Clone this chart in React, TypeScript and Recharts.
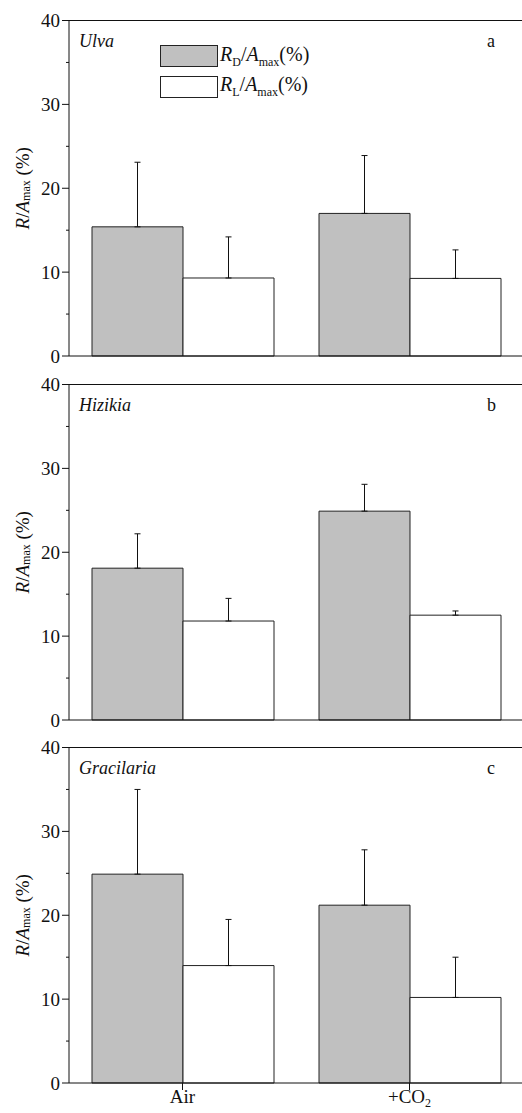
import React from "react";
import { BarChart, Bar, XAxis, YAxis, ErrorBar, Legend, Label } from "recharts";

const CATEGORIES = ["Air", "+CO2"];

const ULVA_RD = [15.4, 17.0];
const ULVA_RD_SD = [7.7, 6.9];
const ULVA_RL = [9.3, 9.25];
const ULVA_RL_SD = [4.9, 3.4];

const HIZIKIA_RD = [18.1, 24.9];
const HIZIKIA_RD_SD = [4.1, 3.2];
const HIZIKIA_RL = [11.8, 12.5];
const HIZIKIA_RL_SD = [2.7, 0.5];

const GRACILARIA_RD = [24.9, 21.2];
const GRACILARIA_RD_SD = [10.1, 6.6];
const GRACILARIA_RL = [14.0, 10.2];
const GRACILARIA_RL_SD = [5.5, 4.8];

const Y_TICKS = [0, 5, 10, 15, 20, 25, 30, 35, 40];

const PANELS = [
  { name: "Ulva", letter: "a", rd: ULVA_RD, rdSd: ULVA_RD_SD, rl: ULVA_RL, rlSd: ULVA_RL_SD },
  { name: "Hizikia", letter: "b", rd: HIZIKIA_RD, rdSd: HIZIKIA_RD_SD, rl: HIZIKIA_RL, rlSd: HIZIKIA_RL_SD },
  { name: "Gracilaria", letter: "c", rd: GRACILARIA_RD, rdSd: GRACILARIA_RD_SD, rl: GRACILARIA_RL, rlSd: GRACILARIA_RL_SD },
];

const FONT = '"Liberation Serif", "DejaVu Serif", serif';
const INK = "#111";
const GRAY = "#c0c0c0";
const PANEL_STEP = 363.5;

function YTick(props: any) {
  const { x, y, payload } = props;
  const major = payload.value % 10 === 0;
  return (
    <g>
      <line x1={x - (major ? 7 : 3)} x2={x} y1={y} y2={y} stroke={INK} />
      {major && (
        <text x={x - 9} y={y} dy="0.35em" textAnchor="end" fontSize={19} fontFamily={FONT} fill={INK}>
          {payload.value}
        </text>
      )}
    </g>
  );
}

function XTick(props: any) {
  const { x, y, payload } = props;
  const label = payload.value as string;
  return (
    <text x={x} y={y} dy="0.71em" textAnchor="middle" fontSize={19} fontFamily={FONT} fill={INK}>
      {label === "+CO2" ? (
        <>
          +CO<tspan dy={4} fontSize={12}>2</tspan>
        </>
      ) : (
        label
      )}
    </text>
  );
}

function YLabel(props: any) {
  const { viewBox } = props;
  const cx = 22;
  const cy = viewBox.y + viewBox.height / 2;
  return (
    <text
      x={cx}
      y={cy}
      transform={`rotate(-90 ${cx} ${cy})`}
      textAnchor="middle"
      dominantBaseline="central"
      fontSize={19}
      fontFamily={FONT}
      fill={INK}
    >
      <tspan fontStyle="italic">R</tspan>/<tspan fontStyle="italic">A</tspan>
      <tspan dy={4} fontSize={12}>max</tspan>
      <tspan dy={-4}> (%)</tspan>
    </text>
  );
}

const LEGEND_ITEMS = [
  { fill: GRAY, sub: "D" },
  { fill: "#fff", sub: "L" },
];

function LegendContent() {
  return (
    <div style={{ fontFamily: FONT, color: INK }}>
      {LEGEND_ITEMS.map((item) => (
        <div key={item.sub} style={{ display: "flex", alignItems: "center", height: 30.6 }}>
          <div style={{ width: 58, height: 22, background: item.fill, border: "1px solid #222", boxSizing: "border-box" }} />
          <span style={{ marginLeft: 2, fontSize: 20, whiteSpace: "nowrap" }}>
            <i>R</i>
            <sub style={{ fontSize: 12 }}>{item.sub}</sub>/<i>A</i>
            <sub style={{ fontSize: 12 }}>max</sub>(%)
          </span>
        </div>
      ))}
    </div>
  );
}

function Panel({ index }: { index: number }) {
  const p = PANELS[index];
  const data = CATEGORIES.map((cat, i) => ({
    cat,
    rd: p.rd[i],
    rdErr: [0, p.rdSd[i]],
    rl: p.rl[i],
    rlErr: [0, p.rlSd[i]],
  }));
  const last = index === PANELS.length - 1;
  return (
    <div style={{ position: "absolute", left: 0, top: index * PANEL_STEP }}>
      <BarChart
        width={523}
        height={386}
        data={data}
        barGap={0}
        margin={{ top: 20.5, right: 0, bottom: 28, left: 0 }}
      >
        <XAxis
          dataKey="cat"
          height={1}
          tickSize={7}
          tickMargin={0}
          tick={last ? <XTick /> : false}
          axisLine={{ stroke: INK }}
          tickLine={{ stroke: INK }}
          interval={0}
        />
        <XAxis
          xAxisId="mid"
          type="number"
          domain={[0, 2]}
          ticks={[1]}
          height={1}
          tickSize={4}
          tick={false}
          axisLine={false}
          tickLine={{ stroke: INK }}
        />
        <XAxis
          xAxisId="top"
          orientation="top"
          type="number"
          domain={[0, 2]}
          ticks={[1]}
          height={1}
          mirror
          tickSize={3}
          tick={false}
          axisLine={{ stroke: INK }}
          tickLine={{ stroke: INK }}
        />
        <YAxis
          type="number"
          domain={[0, 40]}
          ticks={Y_TICKS}
          interval={0}
          width={69}
          tickSize={0}
          tickMargin={0}
          tickLine={false}
          tick={<YTick />}
          axisLine={{ stroke: INK }}
        >
          <Label content={<YLabel />} />
        </YAxis>
        <YAxis
          yAxisId="r"
          orientation="right"
          type="number"
          domain={[0, 40]}
          ticks={[20]}
          width={1}
          mirror
          tickSize={4}
          tick={false}
          axisLine={{ stroke: INK }}
          tickLine={{ stroke: INK }}
        />
        {index === 0 && (
          <Legend
            layout="horizontal"
            verticalAlign="middle"
            align="center"
            content={<LegendContent />}
            wrapperStyle={{ top: 41, left: 160, width: 200, height: 62 }}
          />
        )}
        <Bar dataKey="rd" fill={GRAY} stroke="#222" strokeWidth={1} barSize={91} isAnimationActive={false}>
          <ErrorBar dataKey="rdErr" width={3} stroke={INK} strokeWidth={1} direction="y" />
        </Bar>
        <Bar dataKey="rl" fill="#fff" stroke="#222" strokeWidth={1} barSize={91} isAnimationActive={false}>
          <ErrorBar dataKey="rlErr" width={3} stroke={INK} strokeWidth={1} direction="y" />
        </Bar>
      </BarChart>
      <div
        style={{
          position: "absolute",
          left: 79,
          top: 32,
          fontFamily: FONT,
          fontStyle: "italic",
          fontSize: 18,
          lineHeight: "18px",
          color: INK,
        }}
      >
        {p.name}
      </div>
      <div
        style={{
          position: "absolute",
          left: 487,
          top: 32,
          fontFamily: FONT,
          fontSize: 18,
          lineHeight: "18px",
          color: INK,
        }}
      >
        {p.letter}
      </div>
    </div>
  );
}

export default function App() {
  return (
    <div
      style={{
        position: "absolute",
        left: 0,
        top: 0,
        width: 522,
        height: 1113,
        overflow: "hidden",
        background: "#fff",
      }}
    >
      {PANELS.map((_, i) => (
        <Panel key={i} index={i} />
      ))}
    </div>
  );
}
